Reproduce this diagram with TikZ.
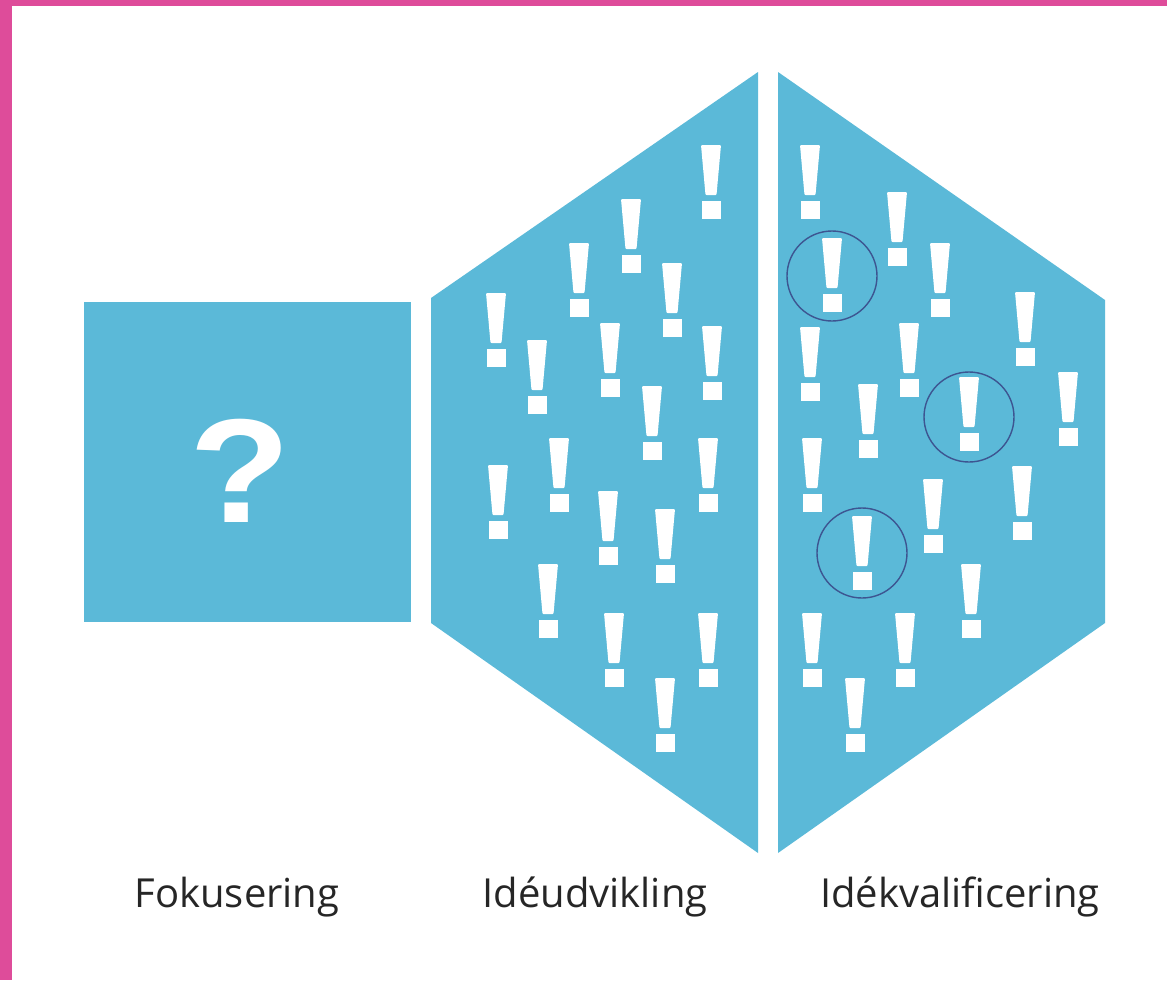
\documentclass[tikz,border=0pt]{standalone}
\usepackage{fontspec}
\setmainfont{Open Sans}
\newfontfamily\qfont{Liberation Sans}
\usepackage{tikz}
\usetikzlibrary{positioning}

\definecolor{fieldblue}{HTML}{5BB9D8}
\definecolor{framepink}{HTML}{DE4C9A}
\definecolor{ringblue}{HTML}{3D5591}

\begin{document}
\begin{tikzpicture}[x=1pt,y=-1pt,
    phase/.style={fill=fieldblue},
    ring/.style={draw=ringblue,line width=1.4pt},
    caption/.style={anchor=base,text=black!85,font=\fontsize{40}{40}\selectfont}]
            \useasboundingbox (0,0) rectangle (1167,980);
            \fill [framepink] (0,0) rectangle (12,980);
            \fill [framepink] (0,0) rectangle (1167,6);

            % the three phases
            \fill [phase] (84,302) rectangle (411,622);
            \fill [phase] (431,298) -- (758,72) -- (758,853) -- (431,623) -- cycle;
            \fill [phase] (778,72) -- (1105,300) -- (1105,623) -- (778,853) -- cycle;

            \node (q) at (240,471) [text=white,inner sep=0pt,font=\qfont\bfseries\fontsize{148}{148}\selectfont] {\scalebox{1.12}[1]{?}};

            % ideas
            \foreach \x/\y in {711/182,631/236,579/280,672/300,496/330,610/360,712/363,537/377,652/423,
                               559/475,708/475,498/502,608/528,665/546,548/601,614/650,708/650,665/715,
                               810/182,897/229,832/275,940/280,1025/329,810/364,909/360,868/421,969/414,
                               1068/409,812/475,933/516,1022/503,862/553,971/601,812/650,905/650,855/715}
            {
                \fill [white, rounded corners=1pt] (\x-10,\y-37) -- ++(20,0) -- ++(-4.5,50) -- ++(-11,0) -- cycle;
                \fill [white] (\x-9.5,\y+19) rectangle (\x+9.5,\y+37);
            }

            % chosen ideas
            \draw [ring] (832,276) circle (45);
            \draw [ring] (969,417) circle (45);
            \draw [ring] (862,553) circle (45);

            \node (fok) at (237,907) [caption] {Fokusering};
            \node (ide) at (595,907) [caption] {Idéudvikling};
            \node (kval) at (960,907) [caption] {Idékvalificering};
        \end{tikzpicture}
\end{document}
